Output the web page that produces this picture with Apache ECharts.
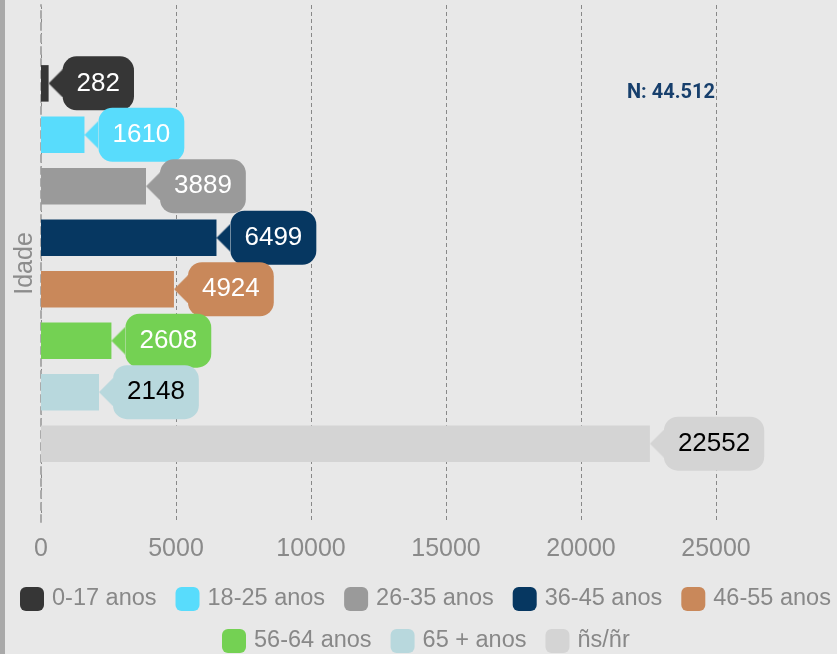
<!DOCTYPE html>
<html>
<head>
<meta charset="utf-8">
<script src="https://cdn.jsdelivr.net/npm/echarts@6/dist/echarts.min.js"></script>
<style>
  html, body { margin: 0; padding: 0; background: #e8e8e8; }
  #chart { width: 837px; height: 654px; }
</style>
</head>
<body>
<div id="chart"></div>
<script>
const groups = ['0-17 anos', '18-25 anos', '26-35 anos', '36-45 anos', '46-55 anos', '56-64 anos', '65 + anos', 'ñs/ñr'];
const counts = [282, 1610, 3889, 6499, 4924, 2608, 2148, 22552];
const colors = ['#363636', '#58dcfc', '#9a9a9a', '#063761', '#c9885a', '#74d153', '#b8d8dd', '#d4d4d4'];
const labelColors = ['#fff', '#fff', '#fff', '#fff', '#fff', '#fff', '#000', '#000'];
const total = 'N: 44.512';

// little left-pointing triangle for the callout labels
function arrow(color) {
  const c = document.createElement('canvas');
  c.width = 14;
  c.height = 28;
  const ctx = c.getContext('2d');
  ctx.fillStyle = color;
  ctx.beginPath();
  ctx.moveTo(14, 0);
  ctx.lineTo(0, 14);
  ctx.lineTo(14, 28);
  ctx.closePath();
  ctx.fill();
  return c;
}

const chart = echarts.init(document.getElementById('chart'));

const series = groups.map((name, i) => {
  return {
    name: name,
    type: 'bar',
    data: [counts[i]],
    barWidth: 36.5,
    barGap: '41%',
    itemStyle: { color: colors[i] },
    label: {
      show: true,
      position: 'right',
      distance: 0,
      formatter: (p) => '{a|}{t|' + p.value + '}',
      rich: {
        a: {
          width: 14,
          height: 28,
          backgroundColor: { image: arrow(colors[i]) }
        },
        t: {
          backgroundColor: colors[i],
          borderRadius: 14,
          padding: [14, 14],
          fontSize: 26,
          lineHeight: 30,
          fontFamily: 'Liberation Sans, Arial, sans-serif',
          color: labelColors[i]
        }
      }
    }
  };
});

const legendBase = {
  orient: 'horizontal',
  padding: 0,
  itemWidth: 24,
  itemHeight: 24,
  itemGap: 19,
  icon: 'roundRect',
  textStyle: {
    color: '#888',
    fontSize: 23.5,
    fontFamily: 'Liberation Sans, Arial, sans-serif',
    padding: [0, 0, 0, 3]
  }
};

chart.setOption({
  backgroundColor: '#e8e8e8',
  animation: false,
  title: {
    text: total,
    left: 627,
    top: 83,
    padding: 0,
    textStyle: {
      color: '#173f6c',
      fontSize: 20,
      fontWeight: 'bold',
      fontFamily: 'Roboto, sans-serif'
    }
  },
  graphic: [{
    type: 'rect',
    left: 0,
    top: 0,
    shape: { width: 5, height: 654 },
    style: { fill: '#a9a9a9' }
  }],
  legend: [
    Object.assign({}, legendBase, { left: 20, top: 587, data: groups.slice(0, 5) }),
    Object.assign({}, legendBase, { left: 222, top: 629, data: groups.slice(5) })
  ],
  grid: { left: 41, right: 121, top: 5, bottom: 132 },
  xAxis: {
    type: 'value',
    min: 0,
    max: 25000,
    interval: 5000,
    axisLine: { show: false },
    axisTick: { show: false },
    axisLabel: {
      color: '#8a8a8a',
      fontSize: 25,
      margin: 15,
      fontFamily: 'Liberation Sans, Arial, sans-serif',
      formatter: (v) => String(v)
    },
    splitLine: {
      show: true,
      lineStyle: { color: '#888', width: 1, type: [4, 3] }
    }
  },
  yAxis: {
    type: 'category',
    data: ['Idade'],
    name: 'Idade',
    nameLocation: 'middle',
    nameRotate: 90,
    nameGap: 3,
    nameTextStyle: {
      color: '#8c8c8c',
      fontSize: 25,
      fontFamily: 'Liberation Sans, Arial, sans-serif'
    },
    axisLabel: { show: false },
    axisTick: { show: false },
    axisLine: {
      show: true,
      lineStyle: { color: '#aaa', width: 2, type: [7, 5] }
    }
  },
  series: series
});
</script>
</body>
</html>
